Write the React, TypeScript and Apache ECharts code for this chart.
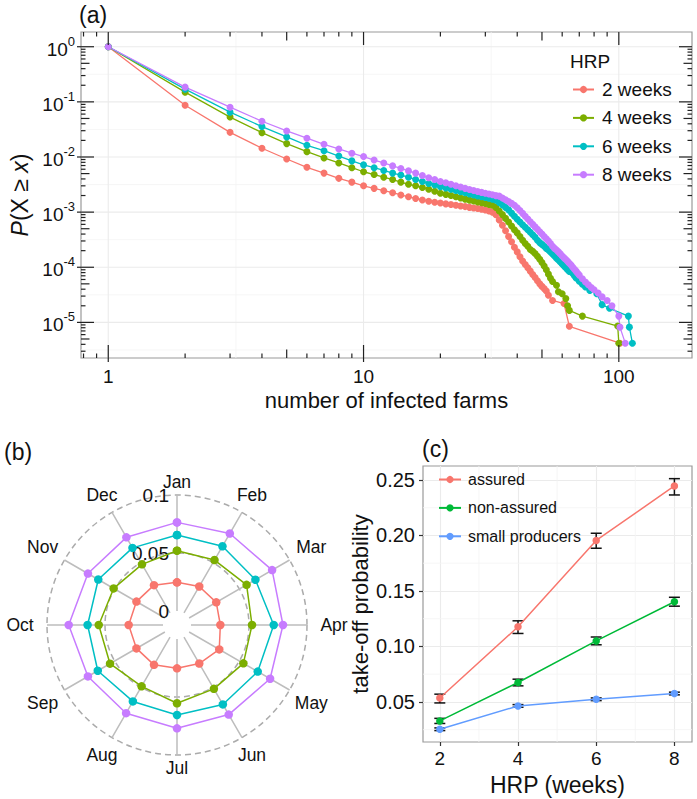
import React, { useEffect, useRef } from 'react';
import * as echarts from 'echarts';

const FONT = '"Liberation Sans", Arial, Helvetica, sans-serif';
const TXT = '#111111';

// ---------- Panel (a): CCDF of outbreak size ----------
const hrpLabels = ['2 weeks', '4 weeks', '6 weeks', '8 weeks'];
const hrpColors = ['#F8766D', '#7CAE00', '#00BFC4', '#C77CFF'];

const size2 = [1, 2, 3, 4, 5, 6, 7, 8, 9, 10, 11, 12, 13, 14, 15, 16, 17, 18, 19, 20, 21, 22, 23, 24, 25, 26, 27, 28, 29, 30, 31, 32, 33, 34, 35, 36, 37, 38, 39, 40, 41, 42, 43, 44, 45, 46, 47, 48, 49, 50, 51, 52, 53, 55, 61, 64, 101];
const ccdf2 = [1, 0.087, 0.028, 0.0144, 0.0092, 0.0065, 0.0051, 0.0041, 0.0035, 0.003, 0.0027, 0.00245, 0.00225, 0.00205, 0.0019, 0.00177, 0.00166, 0.00158, 0.00151, 0.00146, 0.00141, 0.00137, 0.00133, 0.00129, 0.00126, 0.00122, 0.00119, 0.00116, 0.00113, 0.00109, 0.00105, 0.001, 0.0009, 0.00072, 0.00058, 0.00046, 0.00036, 0.00029, 0.00023, 0.00019, 0.000155, 0.00013, 0.000112, 0.000098, 0.000085, 0.000074, 0.000065, 0.000057, 0.00005, 0.000045, 0.000041, 0.000037, 0.000031, 0.000025, 0.000022, 0.0000085, 0.0000042];

const size4 = [1, 2, 3, 4, 5, 6, 7, 8, 9, 10, 11, 12, 13, 14, 15, 16, 17, 18, 19, 20, 21, 22, 23, 24, 25, 26, 27, 28, 29, 30, 31, 32, 33, 34, 35, 36, 37, 38, 39, 40, 41, 42, 43, 44, 45, 46, 47, 48, 49, 50, 51, 52, 53, 54, 55, 57, 58, 60, 62, 63, 64, 72, 99, 100];
const ccdf4 = [1, 0.15, 0.053, 0.0276, 0.0175, 0.0125, 0.0096, 0.0078, 0.0064, 0.0054, 0.0048, 0.0043, 0.0039, 0.0035, 0.0032, 0.003, 0.0028, 0.0026, 0.0024, 0.0022, 0.0021, 0.002, 0.0019, 0.0018, 0.00172, 0.00165, 0.00159, 0.00153, 0.00148, 0.00143, 0.00138, 0.00133, 0.00122, 0.00105, 0.0009, 0.00077, 0.00066, 0.00056, 0.00048, 0.00042, 0.00036, 0.00031, 0.00027, 0.00024, 0.00021, 0.000195, 0.000178, 0.000158, 0.00014, 0.000122, 0.000105, 0.00009, 0.000075, 0.000063, 0.000055, 0.000047, 0.000036, 0.000033, 0.000027, 0.00002, 0.0000165, 0.000013, 0.0000086, 0.0000042];

const size6 = [1, 2, 3, 4, 5, 6, 7, 8, 9, 10, 11, 12, 13, 14, 15, 16, 17, 18, 19, 20, 21, 22, 23, 24, 25, 26, 27, 28, 29, 30, 31, 32, 33, 34, 35, 36, 37, 38, 39, 40, 41, 42, 43, 44, 45, 46, 47, 48, 49, 50, 51, 52, 53, 54, 55, 56, 57, 58, 59, 60, 61, 62, 63, 64, 66, 67, 68, 70, 72, 74, 77, 82, 86, 92, 109, 110, 113];
const ccdf6 = [1, 0.17, 0.065, 0.0356, 0.0231, 0.0163, 0.013, 0.0104, 0.0085, 0.0072, 0.0064, 0.0057, 0.0051, 0.0047, 0.0043, 0.0039, 0.0036, 0.0033, 0.0031, 0.0029, 0.00275, 0.0026, 0.00247, 0.00235, 0.00224, 0.00214, 0.00205, 0.00197, 0.0019, 0.00184, 0.00178, 0.00172, 0.00165, 0.0015, 0.00135, 0.00122, 0.0011, 0.00096, 0.00084, 0.00074, 0.00066, 0.00059, 0.00053, 0.00048, 0.00043, 0.00039, 0.00035, 0.00031, 0.00028, 0.00026, 0.00024, 0.00022, 0.000205, 0.00019, 0.000175, 0.00016, 0.000146, 0.000135, 0.000125, 0.000115, 0.000106, 0.000098, 0.00009, 0.000084, 0.000077, 0.00007, 0.000064, 0.000056, 0.000049, 0.000044, 0.000038, 0.000033, 0.000021, 0.000018, 0.000013, 0.0000082, 0.0000042];

const size8 = [1, 2, 3, 4, 5, 6, 7, 8, 9, 10, 11, 12, 13, 14, 15, 16, 17, 18, 19, 20, 21, 22, 23, 24, 25, 26, 27, 28, 29, 30, 31, 32, 33, 34, 35, 36, 37, 38, 39, 40, 41, 42, 43, 44, 45, 46, 47, 48, 49, 50, 51, 52, 53, 54, 55, 56, 57, 58, 59, 60, 61, 62, 63, 64, 65, 66, 67, 68, 69, 70, 72, 74, 76, 78, 80, 83, 86, 90, 94, 100, 101, 106];
const ccdf8 = [1, 0.185, 0.08, 0.0445, 0.0297, 0.0219, 0.017, 0.014, 0.0117, 0.0102, 0.0088, 0.0078, 0.0069, 0.0062, 0.0056, 0.0051, 0.0046, 0.0042, 0.0039, 0.0036, 0.0034, 0.0032, 0.003, 0.00285, 0.0027, 0.00258, 0.00247, 0.00237, 0.00228, 0.0022, 0.00213, 0.00206, 0.00199, 0.00195, 0.0018, 0.00168, 0.00156, 0.00144, 0.00133, 0.0012, 0.00107, 0.00095, 0.00084, 0.00075, 0.00067, 0.0006, 0.00054, 0.00049, 0.00044, 0.0004, 0.00036, 0.00033, 0.0003, 0.00027, 0.00024, 0.00022, 0.000205, 0.00019, 0.000175, 0.00016, 0.000148, 0.000138, 0.000128, 0.000118, 0.00011, 0.0001, 0.000092, 0.000085, 0.000078, 0.000072, 0.000062, 0.000054, 0.000048, 0.000043, 0.000039, 0.000034, 0.000029, 0.000025, 0.00002, 0.000013, 0.0000082, 0.0000042];

const sizesA = [size2, size4, size6, size8];
const ccdfA = [ccdf2, ccdf4, ccdf6, ccdf8];

// log-tick annotation values (panel a)
const xLogTicks = [0.8, 0.9, 1, 2, 3, 4, 5, 6, 7, 8, 9, 10, 20, 30, 40, 50, 60, 70, 80, 90, 100];
const yLogTicks = [3e-6, 4e-6, 5e-6, 6e-6, 7e-6, 8e-6, 9e-6, 1e-5, 2e-5, 3e-5, 4e-5, 5e-5, 6e-5, 7e-5, 8e-5, 9e-5, 1e-4, 2e-4, 3e-4, 4e-4, 5e-4, 6e-4, 7e-4, 8e-4, 9e-4, 1e-3, 2e-3, 3e-3, 4e-3, 5e-3, 6e-3, 7e-3, 8e-3, 9e-3, 0.01, 0.02, 0.03, 0.04, 0.05, 0.06, 0.07, 0.08, 0.09, 0.1, 0.2, 0.3, 0.4, 0.5, 0.6, 0.7, 0.8, 0.9, 1];
const xGridMajor = [1, 10, 100];
const xGridMinor = [3.1623, 31.623];
const yGridMajor = [1e-5, 1e-4, 1e-3, 1e-2, 1e-1, 1];
const yGridMinor = [3.1623e-6, 3.1623e-5, 3.1623e-4, 3.1623e-3, 3.1623e-2, 0.31623];

// ---------- Panel (b): monthly values ----------
const months = ['Jan', 'Feb', 'Mar', 'Apr', 'May', 'Jun', 'Jul', 'Aug', 'Sep', 'Oct', 'Nov', 'Dec'];
const monthly2 = [0.0247, 0.0263, 0.027, 0.0253, 0.03, 0.0263, 0.0253, 0.0276, 0.0283, 0.0296, 0.0283, 0.0276];
const monthly4 = [0.052, 0.0526, 0.0572, 0.0526, 0.054, 0.0515, 0.0554, 0.049, 0.0546, 0.0554, 0.051, 0.0483];
const monthly6 = [0.0655, 0.0663, 0.066, 0.0713, 0.0683, 0.067, 0.0655, 0.064, 0.0668, 0.065, 0.0663, 0.0647];
const monthly8 = [0.0764, 0.079, 0.0826, 0.0793, 0.0806, 0.0771, 0.077, 0.0757, 0.0766, 0.0813, 0.0766, 0.0752];
const monthlyB = [monthly2, monthly4, monthly6, monthly8];
const radialMax = 0.1;

// ---------- Panel (c): take-off probability ----------
const hrpWeeks = [2, 4, 6, 8];
const groupNames = ['assured', 'non-assured', 'small producers'];
const groupColors = ['#F8766D', '#00BA38', '#619CFF'];
const assured = [0.0536, 0.1177, 0.1955, 0.2446];
const assuredLo = [0.0491, 0.1117, 0.1885, 0.2365];
const assuredHi = [0.057, 0.1231, 0.202, 0.2512];
const nonAssured = [0.0329, 0.0675, 0.105, 0.1403];
const nonAssuredLo = [0.0306, 0.0645, 0.1015, 0.1363];
const nonAssuredHi = [0.0352, 0.0705, 0.1085, 0.1443];
const smallProd = [0.0254, 0.0464, 0.0524, 0.0576];
const smallProdLo = [0.0242, 0.0452, 0.0512, 0.0564];
const smallProdHi = [0.0266, 0.0476, 0.0536, 0.0588];
const groupMeans = [assured, nonAssured, smallProd];
const groupLo = [assuredLo, nonAssuredLo, smallProdLo];
const groupHi = [assuredHi, nonAssuredHi, smallProdHi];
const cXTicks = [2, 4, 6, 8];
const cYTicks = [0.05, 0.1, 0.15, 0.2, 0.25];
const cXMinor = [3, 5, 7];
const cYMinor = [0.025, 0.075, 0.125, 0.175, 0.225];

function tickLen(v: number) {
  const e = Math.floor(Math.log10(v) + 1e-9);
  const m = Math.round((v / Math.pow(10, e)) * 1000) / 1000;
  return m === 1 ? 13 : m === 5 ? 8.5 : 4.5;
}

const TICK = { stroke: '#222', lineWidth: 1.2 };

function vGridSeries(values: number[], gridIdx: number, yVal: number, color: string, width: number) {
  return {
    type: 'custom', xAxisIndex: gridIdx, yAxisIndex: gridIdx, silent: true, z: 1,
    data: values.map((v) => [v, yVal]),
    encode: { x: 0, y: 1 },
    renderItem: (params: any, api: any) => {
      const cs = params.coordSys;
      const x = api.coord([api.value(0), yVal])[0];
      return { type: 'line', shape: { x1: x, y1: cs.y, x2: x, y2: cs.y + cs.height }, style: { stroke: color, lineWidth: width } };
    },
  };
}
function hGridSeries(values: number[], gridIdx: number, xVal: number, color: string, width: number) {
  return {
    type: 'custom', xAxisIndex: gridIdx, yAxisIndex: gridIdx, silent: true, z: 1,
    data: values.map((v) => [xVal, v]),
    encode: { x: 0, y: 1 },
    renderItem: (params: any, api: any) => {
      const cs = params.coordSys;
      const y = api.coord([xVal, api.value(1)])[1];
      return { type: 'line', shape: { x1: cs.x, y1: y, x2: cs.x + cs.width, y2: y }, style: { stroke: color, lineWidth: width } };
    },
  };
}

export default function App() {
  const ref = useRef<HTMLDivElement>(null);
  useEffect(() => {
    if (!ref.current) return;
    const chart = echarts.init(ref.current, null, { renderer: 'svg' });

    const logLabel = (v: number) => {
      const e = Math.log10(v);
      if (Math.abs(e - Math.round(e)) > 1e-6) return '';
      return String(Math.round(v));
    };
    const logSupLabel = (v: number) => {
      const e = Math.log10(v);
      if (Math.abs(e - Math.round(e)) > 1e-6) return '';
      return `{b|10}{s|${Math.round(e)}}`;
    };

    const seriesA = hrpLabels.map((name, k) => ({
      name, type: 'line', xAxisIndex: 0, yAxisIndex: 0, z: 3,
      data: sizesA[k].map((s, i) => [s, ccdfA[k][i]]),
      symbol: 'circle', symbolSize: 7,
      lineStyle: { width: 1.3, color: hrpColors[k] },
      itemStyle: { color: hrpColors[k] },
      emphasis: { disabled: true },
    }));

    const xTickSeries = {
      type: 'custom', xAxisIndex: 0, yAxisIndex: 0, silent: true, z: 5,
      data: xLogTicks.map((v) => [v, 1]),
      encode: { x: 0, y: 1 },
      renderItem: (params: any, api: any) => {
        const cs = params.coordSys;
        const v = api.value(0);
        const x = api.coord([v, 1])[0];
        const len = tickLen(v);
        const b = cs.y + cs.height, t = cs.y;
        const ch: any[] = [
          { type: 'line', shape: { x1: x, y1: b, x2: x, y2: b - len }, style: TICK },
          { type: 'line', shape: { x1: x, y1: t, x2: x, y2: t + len }, style: TICK },
        ];
        if (len === 13) ch.push({ type: 'line', shape: { x1: x, y1: b, x2: x, y2: b + 4 }, style: TICK });
        return { type: 'group', children: ch };
      },
    };
    const yTickSeries = {
      type: 'custom', xAxisIndex: 0, yAxisIndex: 0, silent: true, z: 5,
      data: yLogTicks.map((v) => [1, v]),
      encode: { x: 0, y: 1 },
      renderItem: (params: any, api: any) => {
        const cs = params.coordSys;
        const v = api.value(1);
        const y = api.coord([1, v])[1];
        const len = tickLen(v);
        const l = cs.x, r = cs.x + cs.width;
        const ch: any[] = [
          { type: 'line', shape: { x1: l, y1: y, x2: l + len, y2: y }, style: TICK },
          { type: 'line', shape: { x1: r, y1: y, x2: r - len, y2: y }, style: TICK },
        ];
        if (len === 13) ch.push({ type: 'line', shape: { x1: l, y1: y, x2: l - 4, y2: y }, style: TICK });
        return { type: 'group', children: ch };
      },
    };

    const seriesB = hrpLabels.map((name, k) => ({
      name, type: 'line', coordinateSystem: 'polar', polarIndex: 0, z: 3,
      data: monthlyB[k].concat([monthlyB[k][0]]).map((v, i) => [v, i]),
      symbol: 'circle', symbolSize: 8.5,
      lineStyle: { width: 1.5, color: hrpColors[k] },
      itemStyle: { color: hrpColors[k] },
      emphasis: { disabled: true },
    }));
    const monthLabelSeries = {
      type: 'custom', coordinateSystem: 'polar', polarIndex: 0, silent: true, z: 5,
      data: months.map((m, i) => [radialMax, i]),
      renderItem: (params: any, api: any) => {
        const cs = params.coordSys;
        const i = api.value(1);
        const p = api.coord([radialMax, i]);
        const dx = p[0] - cs.cx, dy = p[1] - cs.cy;
        const r = Math.sqrt(dx * dx + dy * dy) || 1;
        const ux = dx / r, uy = dy / r;
        const d = 13 + 14 * Math.abs(ux);
        return {
          type: 'text',
          x: p[0] + ux * d, y: p[1] + uy * d,
          style: { text: months[i], fontSize: 17.5, fontFamily: FONT, fill: TXT, align: 'center', verticalAlign: 'middle' },
        };
      },
    };

    const seriesC = groupNames.map((name, k) => ({
      name, type: 'line', xAxisIndex: 1, yAxisIndex: 1, z: 4,
      data: hrpWeeks.map((w, i) => [w, groupMeans[k][i]]),
      symbol: 'circle', symbolSize: 7.5,
      lineStyle: { width: 1.5, color: groupColors[k] },
      itemStyle: { color: groupColors[k] },
      emphasis: { disabled: true },
    }));
    const errSeries = groupNames.map((name, k) => ({
      type: 'custom', xAxisIndex: 1, yAxisIndex: 1, silent: true, z: 3,
      data: hrpWeeks.map((w, i) => [w, groupLo[k][i], groupHi[k][i]]),
      encode: { x: 0, y: [1, 2] },
      renderItem: (params: any, api: any) => {
        const p1 = api.coord([api.value(0), api.value(1)]);
        const p2 = api.coord([api.value(0), api.value(2)]);
        const st = { stroke: '#111', lineWidth: 1.5 };
        const hw = 5.5;
        return {
          type: 'group', children: [
            { type: 'line', shape: { x1: p1[0], y1: p1[1], x2: p2[0], y2: p2[1] }, style: st },
            { type: 'line', shape: { x1: p1[0] - hw, y1: p1[1], x2: p1[0] + hw, y2: p1[1] }, style: st },
            { type: 'line', shape: { x1: p2[0] - hw, y1: p2[1], x2: p2[0] + hw, y2: p2[1] }, style: st },
          ],
        };
      },
    }));

    const option: any = {
      animation: false,
      textStyle: { fontFamily: FONT, color: TXT },
      grid: [
        { left: 80, top: 32, width: 612, height: 326, show: true, borderColor: '#9a9a9a', borderWidth: 1.2, backgroundColor: 'transparent', containLabel: false },
        { left: 423, top: 466, width: 269, height: 276, show: true, borderColor: '#9a9a9a', borderWidth: 1.2, backgroundColor: 'transparent', containLabel: false },
      ],
      xAxis: [
        {
          gridIndex: 0, type: 'log', logBase: 10, min: 0.782, max: 193.5,
          axisLine: { show: false }, axisTick: { show: false }, splitLine: { show: false },
          axisLabel: { formatter: logLabel, fontSize: 19, color: TXT, margin: 9, showMinLabel: false, showMaxLabel: false },
          name: 'number of infected farms', nameLocation: 'middle', nameGap: 31,
          nameTextStyle: { fontSize: 22, color: TXT },
        },
        {
          gridIndex: 1, type: 'value', min: 1.57, max: 8.45, splitNumber: 3,
          axisLine: { show: false },
          axisTick: { show: true, length: 4, lineStyle: { color: '#333', width: 1.2 }, customValues: cXTicks },
          splitLine: { show: true, lineStyle: { color: '#ebebeb', width: 1.1 } },
          axisLabel: { customValues: cXTicks, fontSize: 19, color: TXT, margin: 7, formatter: (v: number) => (Math.abs(v - Math.round(v)) < 1e-6 ? String(Math.round(v)) : '') },
          name: 'HRP (weeks)', nameLocation: 'middle', nameGap: 31,
          nameTextStyle: { fontSize: 23, color: TXT },
        },
      ],
      yAxis: [
        {
          gridIndex: 0, type: 'log', logBase: 10, min: 2.26e-6, max: 1.85,
          axisLine: { show: false }, axisTick: { show: false }, splitLine: { show: false },
          axisLabel: {
            formatter: logSupLabel, margin: 6, showMinLabel: false, showMaxLabel: false, color: TXT,
            rich: {
              b: { fontSize: 19, color: TXT, fontFamily: FONT, padding: [5, 0, 0, 0] },
              s: { fontSize: 13, color: TXT, fontFamily: FONT, verticalAlign: 'top' },
            },
          },
          name: '{i|P}(X ≥ {i|x})', nameLocation: 'middle', nameGap: 50, nameRotate: 90,
          nameTextStyle: { fontSize: 23, color: TXT, rich: { i: { fontSize: 23, fontStyle: 'italic', color: TXT, fontFamily: FONT } } },
        },
        {
          gridIndex: 1, type: 'value', min: 0.0139, max: 0.2626, splitNumber: 5,
          axisLine: { show: false },
          axisTick: { show: true, length: 4, lineStyle: { color: '#333', width: 1.2 }, customValues: cYTicks },
          splitLine: { show: true, lineStyle: { color: '#ebebeb', width: 1.1 } },
          axisLabel: { customValues: cYTicks, fontSize: 20, color: TXT, margin: 8, formatter: (v: number) => (Math.abs(v * 20 - Math.round(v * 20)) < 1e-6 ? v.toFixed(2) : '') },
          name: 'take-off probability', nameLocation: 'middle', nameGap: 52,
          nameTextStyle: { fontSize: 22, color: TXT },
        },
      ],
      polar: { center: [177, 625], radius: [14, 130] },
      angleAxis: {
        type: 'value', min: 0, max: 12, interval: 1, startAngle: 90, clockwise: true,
        axisLine: { show: false }, axisTick: { show: false },
        splitLine: { show: true, lineStyle: { color: '#bdbdbd', width: 1.5 } },
        axisLabel: { show: false },
      },
      radiusAxis: {
        type: 'value', min: 0, max: radialMax, interval: 0.05,
        axisLine: { show: false }, axisTick: { show: false },
        splitLine: { show: true, lineStyle: { color: ['rgba(0,0,0,0)', '#ababab', '#ababab'], type: [6, 4], width: 1.5 } },
        axisLabel: { formatter: (v: number) => (v === 0 ? '0' : String(+v.toFixed(2))), fontSize: 19, color: TXT },
      },
      legend: [
        {
          data: hrpLabels, orient: 'vertical', left: 572, top: 80, padding: 0,
          itemWidth: 21, itemHeight: 9, itemGap: 9.4, selectedMode: false,
          textStyle: { fontSize: 19, color: TXT, fontFamily: FONT, padding: [0, 0, 0, 3] },
        },
        {
          data: groupNames, orient: 'vertical', left: 438, top: 471.5, padding: 0,
          itemWidth: 22, itemHeight: 9, itemGap: 12.4, selectedMode: false,
          textStyle: { fontSize: 16, color: TXT, fontFamily: FONT, padding: [0, 0, 0, 2] },
        },
      ],
      graphic: [
        { type: 'text', x: 79, y: 15, style: { text: '(a)', fontSize: 23, fontFamily: FONT, fill: TXT, verticalAlign: 'middle' } },
        { type: 'text', x: 4, y: 452, style: { text: '(b)', fontSize: 23, fontFamily: FONT, fill: TXT, verticalAlign: 'middle' } },
        { type: 'text', x: 422, y: 449, style: { text: '(c)', fontSize: 23, fontFamily: FONT, fill: TXT, verticalAlign: 'middle' } },
        { type: 'text', x: 570, y: 61, style: { text: 'HRP', fontSize: 19, fontFamily: FONT, fill: TXT, verticalAlign: 'middle' } },
      ],
      series: [
        vGridSeries(xGridMinor, 0, 1, '#f4f4f4', 0.8),
        hGridSeries(yGridMinor, 0, 1, '#f4f4f4', 0.8),
        vGridSeries(xGridMajor, 0, 1, '#ebebeb', 1.1),
        hGridSeries(yGridMajor, 0, 1, '#ebebeb', 1.1),
        vGridSeries(cXMinor, 1, 0.1, '#f4f4f4', 0.8),
        hGridSeries(cYMinor, 1, 4, '#f4f4f4', 0.8),
        ...seriesA,
        xTickSeries,
        yTickSeries,
        ...seriesB,
        monthLabelSeries,
        ...errSeries,
        ...seriesC,
      ],
    };
    chart.setOption(option);
    return () => chart.dispose();
  }, []);
  return <div ref={ref} style={{ position: 'absolute', left: 0, top: 0, width: 697, height: 799 }} />;
}
